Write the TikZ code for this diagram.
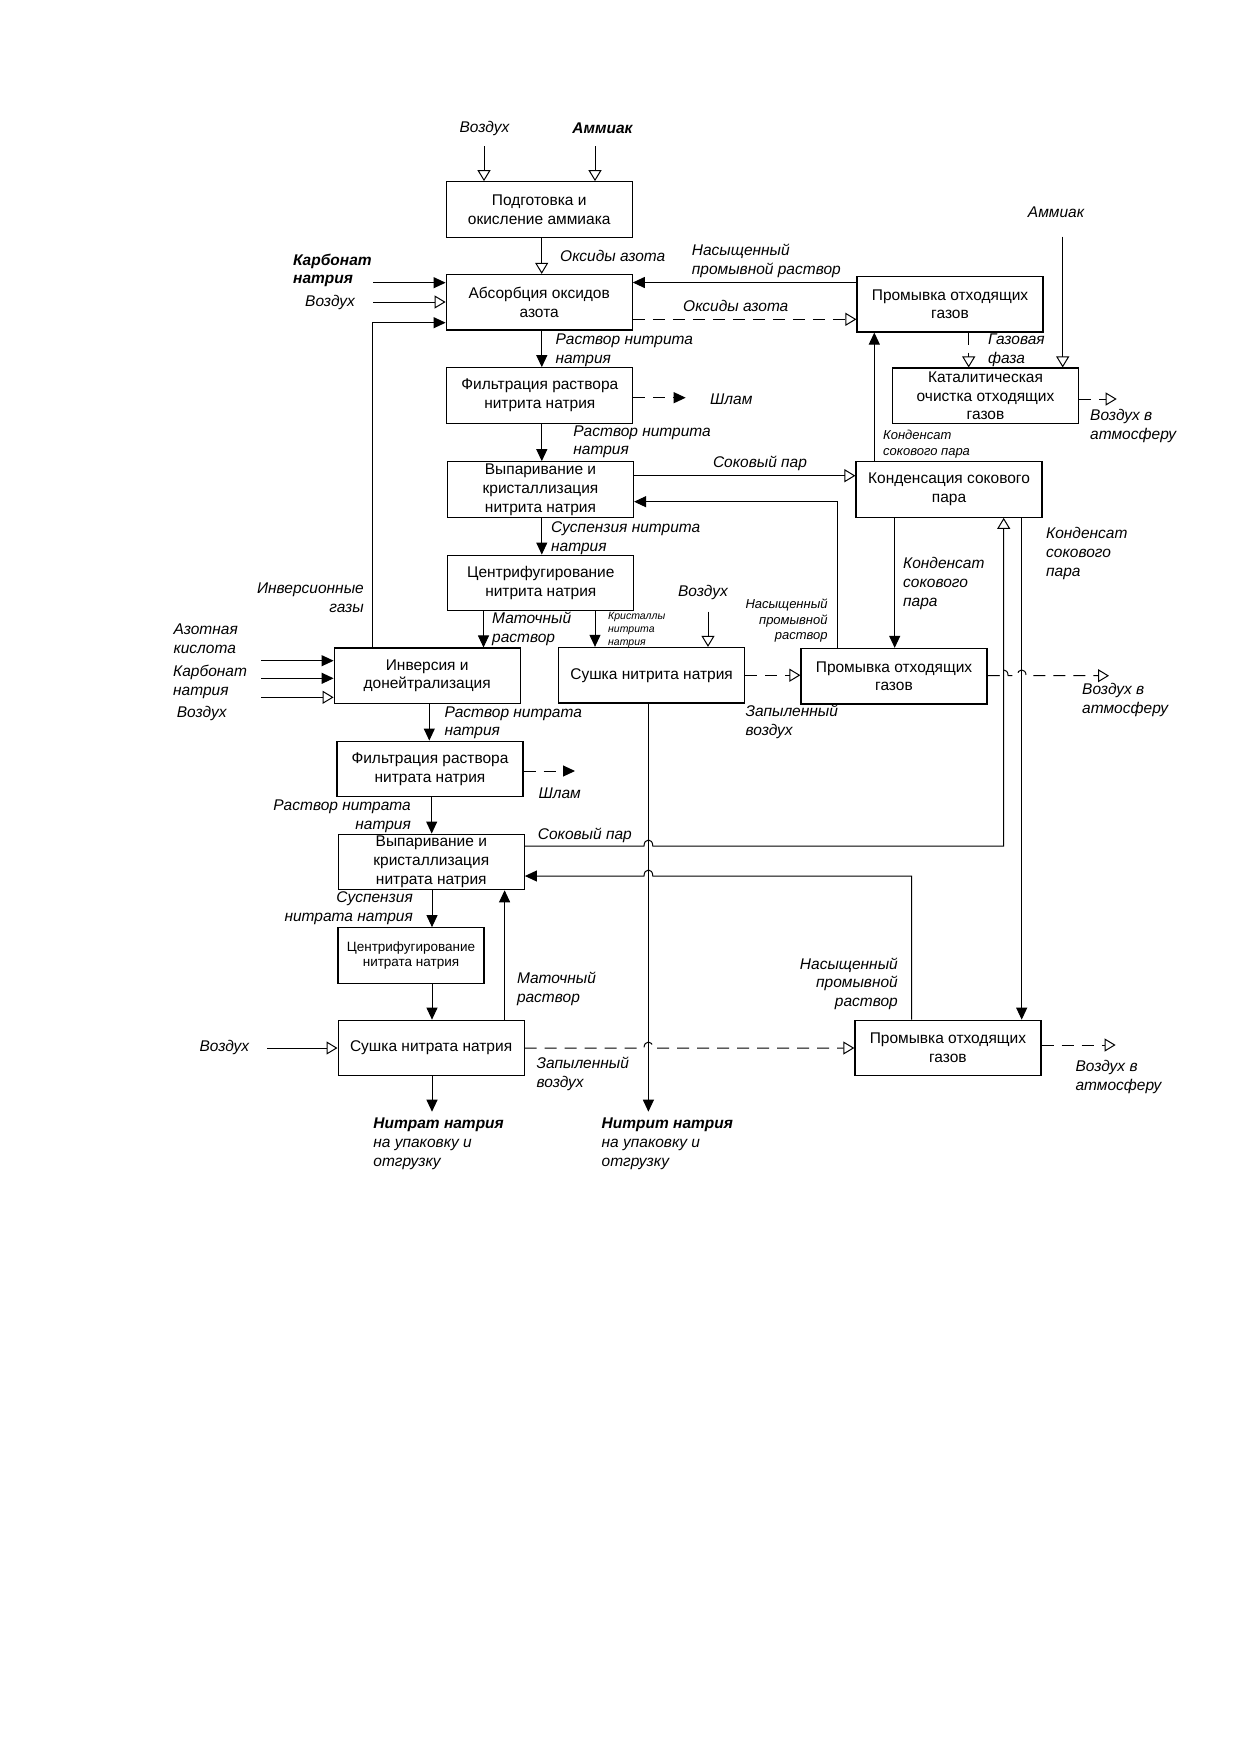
\documentclass[tikz,border=0pt]{standalone}
\usepackage{fontspec}
\setmainfont{Liberation Sans}
\usetikzlibrary{arrows.meta}
\newcommand{\boxfont}{\fontsize{15.5}{18.8}\selectfont}
\newcommand{\lblfont}{\fontsize{15.5}{18.8}\selectfont\itshape}
\newcommand{\smlfont}{\fontsize{13}{15.6}\selectfont\itshape}
\newcommand{\tinyfnt}{\fontsize{10.5}{12.7}\selectfont\itshape}

\begin{document}
\begin{tikzpicture}[x=1pt,y=-1pt,
  every node/.append style={inner sep=0pt},
  proc/.style={draw,line width=1.2pt,align=center,font=\boxfont,
    minimum width=186pt,minimum height=55.5pt},
  lbl/.style={font=\lblfont,align=left,anchor=west},
  lblr/.style={font=\lblfont,align=right,anchor=east},
  flow/.style={line width=1pt,-{Triangle[length=12pt,width=11pt]}},
  feed/.style={line width=1pt,-{Triangle[open,length=11pt,width=13pt]}},
  gas/.style={feed,dash pattern=on 12pt off 8pt},
  waste/.style={flow,dash pattern=on 12pt off 8pt}]
  \useasboundingbox[fill=white] (0,0) rectangle (1241,1754);

  \node[proc] (prep) at (539.2,209.5) {Подготовка и\\окисление аммиака};
  \node[proc] (absorb) at (539.2,302.2) {Абсорбция оксидов\\азота};
  \node[proc] (washA) at (950,304.2) {Промывка отходящих\\газов};
  \node[proc] (catal) at (985.5,395.8) {Каталитическая\\очистка отходящих\\газов};
  \node[proc] (filtA) at (539.8,395.5) {Фильтрация раствора\\нитрита натрия};
  \node[proc] (evapA) at (540.5,489.5) {Выпаривание и\\кристаллизация\\нитрита натрия};
  \node[proc] (condens) at (949,489.5) {Конденсация сокового\\пара};
  \node[proc] (centA) at (540.8,582.9) {Центрифугирование\\нитрита натрия};
  \node[proc] (inver) at (427.2,675.8) {Инверсия и\\донейтрализация};
  \node[proc] (dryA) at (651.6,675.2) {Сушка нитрита натрия};
  \node[proc] (washB) at (894,676.2) {Промывка отходящих\\газов};
  \node[proc] (filtB) at (430,768.9) {Фильтрация раствора\\нитрата натрия};
  \node[proc] (evapB) at (431.3,861.9) {Выпаривание и\\кристаллизация\\нитрата натрия};
  \node[proc,minimum width=146pt,font=\fontsize{13.5}{15.5}\selectfont] (centB) at (411,955.5) {Центрифугирование\\нитрата натрия};
  \node[proc] (dryB) at (431.1,1048) {Сушка нитрата натрия};
  \node[proc] (washC) at (947.9,1048) {Промывка отходящих\\газов};

  \coordinate (srcAir) at (484,146);
  \coordinate (srcNH) at (595,146);
  \coordinate (srcCarbA) at (373,282.7);
  \coordinate (srcAirA) at (373,302);
  \coordinate (srcNHB) at (1062.7,236.7);
  \coordinate (outAirA) at (1116.7,399);
  \coordinate (slimeA) at (685.7,397.7);
  \coordinate (srcAirB) at (708,611.7);
  \coordinate (outAirB) at (1109,675.7);
  \coordinate (srcHNO3) at (261,660.7);
  \coordinate (srcCarbB) at (261,678.3);
  \coordinate (srcAirC) at (261,697.3);
  \coordinate (slimeB) at (575,771);
  \coordinate (outAirC) at (1115.6,1045);
  \coordinate (srcAirD) at (267,1048);
  \coordinate (prodB) at (432,1111.7);
  \coordinate (prodA) at (648.4,1111.7);

  \draw[feed] (srcAir) -- (srcAir |- prep.north);
  \draw[feed] (srcNH) -- (srcNH |- prep.north);
  \draw[feed] (prep.south -| 541.7,0) -- (absorb.north -| 541.7,0);
  \draw[flow] (srcCarbA) -- (srcCarbA -| absorb.west);
  \draw[feed] (srcAirA) -- (srcAirA -| absorb.west);
  \draw[flow] (inver.north -| 372,0) -- (372,322.7) -- (absorb.west |- 0,322.7);
  \draw[flow] (washA.west |- 0,282.5) -- (absorb.east |- 0,282.5);
  \draw[gas] (absorb.east |- 0,319.3) -- (washA.west |- 0,319.3);
  \draw[gas] (washA.south -| 968.7,0) -- (catal.north -| 968.7,0);
  \draw[feed] (srcNHB) -- (srcNHB |- catal.north);
  \draw[gas] (catal.east |- 0,399) -- (outAirA);
  \draw[flow] (absorb.south -| 541.8,0) -- (filtA.north -| 541.8,0);
  \draw[waste] (filtA.east |- 0,397.7) -- (slimeA);
  \draw[flow] (filtA.south -| 541.8,0) -- (evapA.north -| 541.8,0);
  \draw[feed] (evapA.east |- 0,475.7) -- (condens.west |- 0,475.7);
  \draw[flow] (condens.north -| 874.3,0) -- (washA.south -| 874.3,0);
  \draw[flow] (washB.north -| 837.5,0) -- (837.5,501.7) -- (evapA.east |- 0,501.7);
  \draw[flow] (evapA.south -| 541.8,0) -- (centA.north -| 541.8,0);
  \draw[flow] (centA.south -| 483.5,0) -- (inver.north -| 483.5,0);
  \draw[flow] (centA.south -| 595,0) -- (dryA.north -| 595,0);
  \draw[feed] (srcAirB) -- (srcAirB |- dryA.north);
  \draw[flow] (condens.south -| 894.7,0) -- (washB.north -| 894.7,0);
  \draw[gas] (dryA.east) -- (dryA.east -| washB.west);
  \draw[gas] (washB.east |- 0,675.7) -- (999.3,675.7)
    .. controls (999.3,668) and (1008.1,668) .. (1008.1,675.7) -- (1017.3,675.7)
    .. controls (1017.3,668) and (1026.1,668) .. (1026.1,675.7) -- (outAirB);
  \draw[flow] (srcHNO3) -- (srcHNO3 -| inver.west);
  \draw[flow] (srcCarbB) -- (srcCarbB -| inver.west);
  \draw[feed] (srcAirC) -- (srcAirC -| inver.west);
  \draw[flow] (inver.south -| 429.3,0) -- (filtB.north -| 429.3,0);
  \draw[waste] (filtB.east |- 0,771) -- (slimeB);
  \draw[flow] (filtB.south -| 431.7,0) -- (evapB.north -| 431.7,0);
  \draw[feed] (evapB.east |- 0,846) -- (644,846)
    .. controls (644,838) and (652.8,838) .. (652.8,846) -- (1003.7,846) -- (condens.south -| 1003.7,0);
  \draw[flow] (washC.north -| 911.6,0) -- (911.6,876) -- (652.8,876)
    .. controls (652.8,868) and (644,868) .. (644,876) -- (evapB.east |- 0,876);
  \draw[flow] (condens.south -| 1021.7,0) -- (washC.north -| 1021.7,0);
  \draw[flow] (evapB.south -| 432,0) -- (centB.north -| 432,0);
  \draw[flow] (centB.south -| 432,0) -- (dryB.north -| 432,0);
  \draw[flow] (dryB.north -| 504.6,0) -- (evapB.south -| 504.6,0);
  \draw[feed] (srcAirD) -- (srcAirD -| dryB.west);
  \draw[gas] (dryB.east) -- (644,1048)
    .. controls (644,1040) and (652.8,1040) .. (652.8,1048) -- (dryB.east -| washC.west);
  \draw[gas] (washC.east |- 0,1045) -- (outAirC);
  \draw[flow] (dryB.south -| 432,0) -- (prodB);
  \draw[flow] (dryA.south -| 648.4,0) -- (prodA);

  \node[lbl,anchor=center] (tAir) at (484.5,128) {Воздух};
  \node[lbl,anchor=center] (tNH) at (602.5,128) {\bfseries Аммиак};
  \node[lbl] (tOxA) at (560,255.7) {Оксиды азота};
  \node[lbl] (tCarbA) at (293,270.5) {\bfseries Карбонат\\\bfseries натрия};
  \node[lbl] (tAirA) at (305,302) {Воздух};
  \node[lbl] (tSatA) at (691.7,260.5) {Насыщенный\\промывной раствор};
  \node[lbl] (tOxB) at (683,305.7) {Оксиды азота};
  \node[lbl,anchor=center] (tNHB) at (1056,212) {Аммиак};
  \node[lbl] (tGas) at (988,350.5) {Газовая\\фаза};
  \node[lbl] (tOutA) at (1090,426.2) {Воздух в\\атмосферу};
  \node[lbl] (tSolA) at (555.4,350.2) {Раствор нитрита\\натрия};
  \node[lbl] (tSlimeA) at (710,399) {Шлам};
  \node[lbl] (tSolB) at (573.2,441.7) {Раствор нитрита\\натрия};
  \node[lbl,font=\smlfont] (tCondA) at (883,444.2) {Конденсат\\сокового пара};
  \node[lbl,anchor=center] (tVapA) at (760,463.3) {Соковый пар};
  \node[lbl] (tSuspA) at (551,537.8) {Суспензия нитрита\\натрия};
  \node[lbl] (tCondB) at (1046,553.3) {Конденсат\\сокового\\пара};
  \node[lbl] (tCondC) at (903,583.3) {Конденсат\\сокового\\пара};
  \node[lblr] (tInvGas) at (364,597.5) {Инверсионные\\газы};
  \node[lbl,anchor=center] (tAirB) at (703,592.3) {Воздух};
  \node[lblr,font=\smlfont] (tSatB) at (827.8,620.7) {Насыщенный\\промывной\\раствор};
  \node[lbl] (tMotherA) at (492,628.8) {Маточный\\раствор};
  \node[lbl,font=\tinyfnt] (tCryst) at (608,630) {Кристаллы\\нитрита\\натрия};
  \node[lbl] (tHNO3) at (173.3,638.8) {Азотная\\кислота};
  \node[lbl] (tCarbB) at (173,681.7) {Карбонат\\натрия};
  \node[lbl] (tAirC) at (176.7,713.3) {Воздух};
  \node[lbl] (tSolC) at (444.3,722.8) {Раствор нитрата\\натрия};
  \node[lbl] (tDustA) at (745.4,722.2) {Запыленный\\воздух};
  \node[lbl] (tOutB) at (1082,699.7) {Воздух в\\атмосферу};
  \node[lbl] (tSlimeB) at (538.3,793.3) {Шлам};
  \node[lblr] (tSolD) at (411,816.2) {Раствор нитрата\\натрия};
  \node[lbl] (tVapB) at (537.7,835.3) {Соковый пар};
  \node[lblr] (tSuspB) at (413,908.4) {Суспензия\\нитрата натрия};
  \node[lblr] (tSatC) at (898,983.8) {Насыщенный\\промывной\\раствор};
  \node[lbl] (tMotherB) at (516.8,988.7) {Маточный\\раствор};
  \node[lbl] (tAirD) at (199.3,1047) {Воздух};
  \node[lbl] (tDustB) at (536.4,1073.8) {Запыленный\\воздух};
  \node[lbl] (tOutC) at (1075.3,1077.3) {Воздух в\\атмосферу};
  \node[lbl] (tProdB) at (373.2,1144) {\bfseries Нитрат натрия\\на упаковку и\\отгрузку};
  \node[lbl] (tProdA) at (601.5,1144) {\bfseries Нитрит натрия\\на упаковку и\\отгрузку};
\end{tikzpicture}
\end{document}
